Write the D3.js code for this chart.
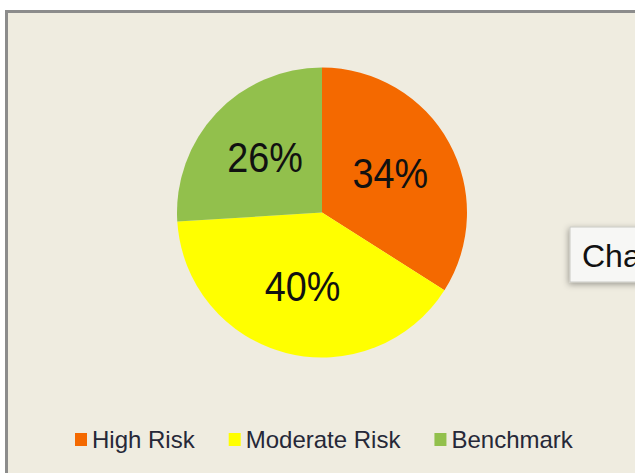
<!DOCTYPE html>
<html>
<head>
<meta charset="utf-8">
<script src="https://cdn.jsdelivr.net/npm/d3@7"></script>
<style>
  html, body { margin: 0; padding: 0; background: #ffffff; }
  svg { display: block; }
</style>
</head>
<body>
<div id="chart"></div>
<script>
// Risk distribution
const categories = ["High Risk", "Moderate Risk", "Benchmark"];
const shares = [34, 40, 26];
const sliceColors = ["#f46900", "#ffff00", "#92c04c"];
const tooltipText = "Chart";

const W = 635, H = 473;
const cx = 322, cy = 212.5, R = 145;

const svg = d3.select("#chart").append("svg")
  .attr("width", W).attr("height", H);

const defs = svg.append("defs");
const shadow = defs.append("filter").attr("id", "tipShadow")
  .attr("x", "-30%").attr("y", "-30%").attr("width", "160%").attr("height", "160%");
shadow.append("feDropShadow")
  .attr("dx", -1).attr("dy", 2).attr("stdDeviation", 3)
  .attr("flood-color", "#000").attr("flood-opacity", 0.35);

// panel with grey frame (continues past the right and bottom edge)
svg.append("rect")
  .attr("x", 6.5).attr("y", 11.5)
  .attr("width", W + 20).attr("height", H + 20)
  .attr("fill", "#efece0")
  .attr("stroke", "#8c8c8c").attr("stroke-width", 3);

const color = d3.scaleOrdinal().domain(categories).range(sliceColors);

const pie = d3.pie().sort(null).value(d => d.v);
const data = pie(categories.map((c, i) => ({ c, v: shares[i] })));

const arc = d3.arc().innerRadius(0).outerRadius(R);
const labelArc = d3.arc().innerRadius(78).outerRadius(78);

const g = svg.append("g").attr("transform", `translate(${cx},${cy})`);

g.selectAll("path.slice").data(data).join("path")
  .attr("class", "slice")
  .attr("d", arc)
  .attr("fill", d => color(d.data.c));

g.selectAll("text.pct").data(data).join("text")
  .attr("class", "pct")
  .attr("transform", d => {
    const [x, y] = labelArc.centroid(d);
    return `translate(${x},${y}) scale(0.9,1)`;
  })
  .attr("text-anchor", "middle")
  .attr("dy", "0.3em")
  .attr("font-family", "Liberation Sans, Arial, sans-serif")
  .attr("font-size", 42)
  .attr("fill", "#111")
  .text(d => d.data.v + "%");

// legend
const legend = svg.append("g").attr("transform", "translate(75,0)");
let lx = 0;
categories.forEach((c, i) => {
  const item = legend.append("g").attr("transform", `translate(${lx},0)`);
  item.append("rect")
    .attr("x", 0).attr("y", 433)
    .attr("width", 12).attr("height", 13)
    .attr("fill", color(c));
  const t = item.append("text")
    .attr("x", 17).attr("y", 448)
    .attr("font-family", "Liberation Sans, Arial, sans-serif")
    .attr("font-size", 24)
    .attr("fill", "#262838")
    .text(c);
  lx += 17 + t.node().getComputedTextLength() + 34;
});

// hover tooltip, partly outside the view
const tip = svg.append("g").attr("transform", "translate(570,227)");
tip.append("rect")
  .attr("width", 120).attr("height", 55)
  .attr("fill", "#f7f7f5")
  .attr("stroke", "#c9c9c4").attr("stroke-width", 1)
  .attr("filter", "url(#tipShadow)");
tip.append("text")
  .attr("x", 12).attr("y", 40)
  .attr("font-family", "Liberation Sans, Arial, sans-serif")
  .attr("font-size", 32)
  .attr("fill", "#111")
  .text(tooltipText);
</script>
</body>
</html>
